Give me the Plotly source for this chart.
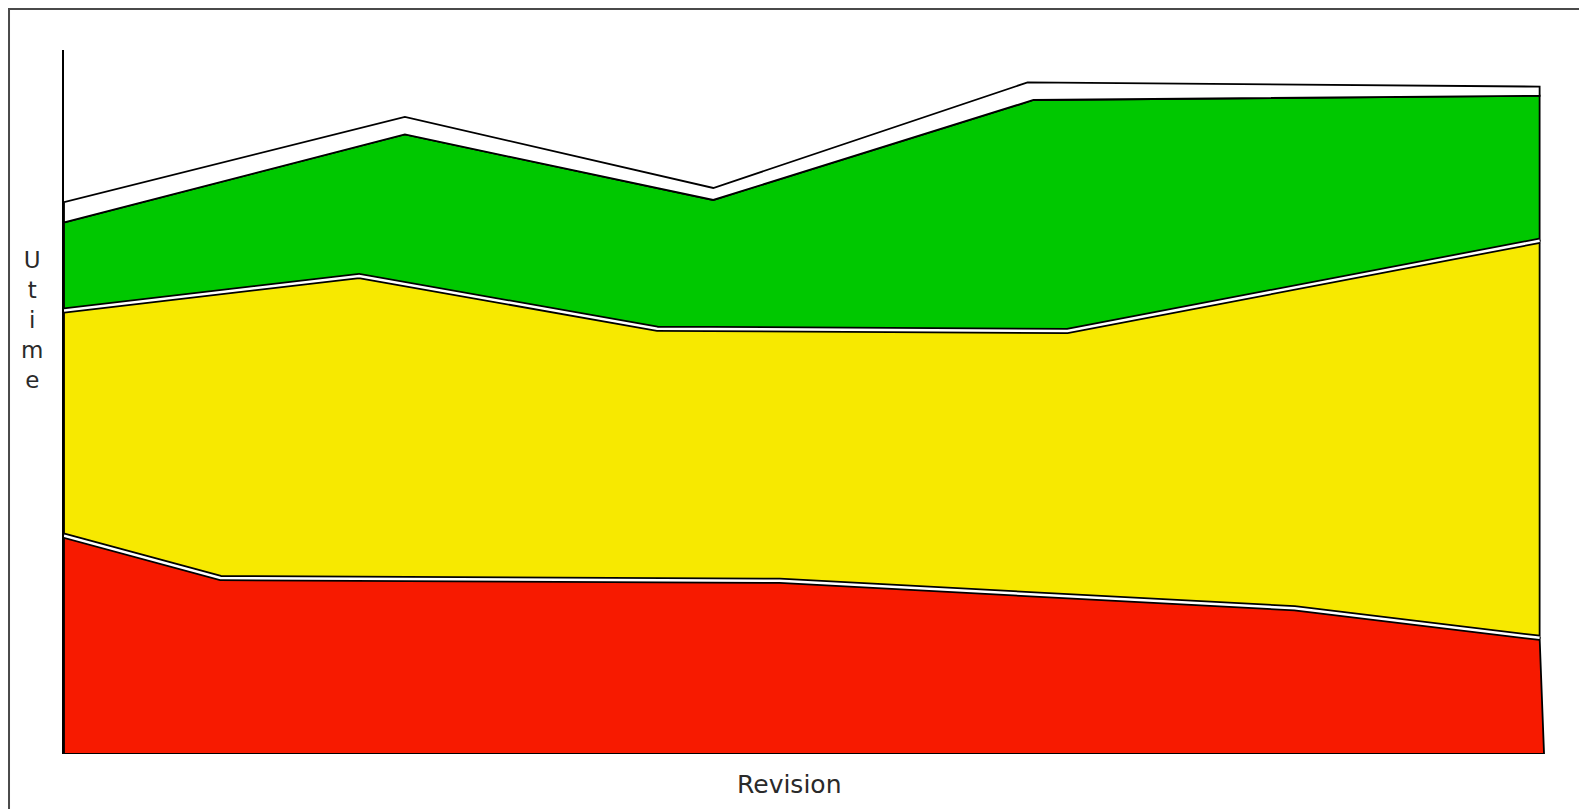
import plotly.graph_objects as go

# Revision positions (x) and cumulative Utime (y) of each layer boundary
red_top_x = [0, 10.6, 48.5, 83.4, 100]
red_top_y = [31.0, 25.0, 24.6, 20.7, 16.5]

yellow_top_x = [0, 20.0, 40.2, 68.0, 100]
yellow_top_y = [63.0, 67.9, 60.4, 60.1, 72.9]

green_top_x = [0, 23.1, 44.0, 65.7, 100]
green_top_y = [75.5, 88.0, 78.7, 92.9, 93.5]

white_top_x = [0, 23.1, 44.0, 65.3, 100]
white_top_y = [78.4, 90.5, 80.4, 95.4, 94.8]

red_base_x = [100.3, 0]
red_base_y = [0, 0]

RED = "#f71a00"
YELLOW = "#f7e900"
GREEN = "#00c800"
WHITE = "#ffffff"

fig = go.Figure()


def layer(upper_x, upper_y, lower_x, lower_y, color):
    xs = list(upper_x) + list(reversed(lower_x))
    ys = list(upper_y) + list(reversed(lower_y))
    xs.append(xs[0])
    ys.append(ys[0])
    fig.add_trace(go.Scatter(
        x=xs, y=ys, mode="lines", fill="toself", fillcolor=color,
        line=dict(color="black", width=1.8), hoverinfo="skip", showlegend=False,
    ))


layer(red_top_x, red_top_y, list(reversed(red_base_x)), list(reversed(red_base_y)), RED)
layer(yellow_top_x, yellow_top_y, red_top_x, red_top_y, YELLOW)
layer(green_top_x, green_top_y, yellow_top_x, yellow_top_y, GREEN)
layer(white_top_x, white_top_y, green_top_x, green_top_y, WHITE)

# white separating bands with black edges between red/yellow and yellow/green
for bx, by in [(red_top_x, red_top_y), (yellow_top_x, yellow_top_y)]:
    fig.add_trace(go.Scatter(x=bx, y=by, mode="lines",
                             line=dict(color="black", width=6),
                             hoverinfo="skip", showlegend=False))
    fig.add_trace(go.Scatter(x=bx, y=by, mode="lines",
                             line=dict(color="white", width=2.5),
                             hoverinfo="skip", showlegend=False))

# page offset: the figure is placed 8px in from the page's top-left corner
OFF = 8
plot_left, plot_top, plot_bottom = 64, 50, 754.3
plot_w = 1483.4
plot_h = plot_bottom - plot_top


def px_x(px):
    return (px - plot_left) / plot_w


def px_y(py):
    return (plot_bottom - py) / plot_h


fig.update_layout(
    width=1587, height=809,
    margin=dict(l=plot_left - OFF, r=1587 - (plot_left - OFF) - plot_w,
                t=plot_top - OFF, b=809 - (plot_bottom - OFF)),
    paper_bgcolor="white", plot_bgcolor="white",
    xaxis=dict(range=[0, 100.5], showgrid=False, zeroline=False, showline=False,
               showticklabels=False, ticks=""),
    yaxis=dict(range=[0, 100], showgrid=False, zeroline=False, showline=True,
               linecolor="black", linewidth=1.5, showticklabels=False, ticks=""),
    shapes=[
        dict(type="line", xref="paper", yref="paper",
             x0=px_x(8), x1=px_x(1600), y0=px_y(9), y1=px_y(9),
             line=dict(color="#4a4a4a", width=2)),
        dict(type="line", xref="paper", yref="paper",
             x0=px_x(9), x1=px_x(9), y0=px_y(8), y1=px_y(820),
             line=dict(color="#4a4a4a", width=2)),
    ],
    annotations=[
        dict(text="Revision", xref="paper", yref="paper", x=px_x(789), y=px_y(785),
             xanchor="center", yanchor="middle", showarrow=False,
             font=dict(family="DejaVu Sans", size=25, color="#2a2a2a")),
        dict(text="U<br>t<br>i<br>m<br>e", xref="paper", yref="paper",
             x=px_x(32), y=px_y(320), xanchor="center", yanchor="middle",
             showarrow=False, align="center",
             font=dict(family="DejaVu Sans", size=23, color="#2a2a2a")),
    ],
)

fig.write_html("out.html")
